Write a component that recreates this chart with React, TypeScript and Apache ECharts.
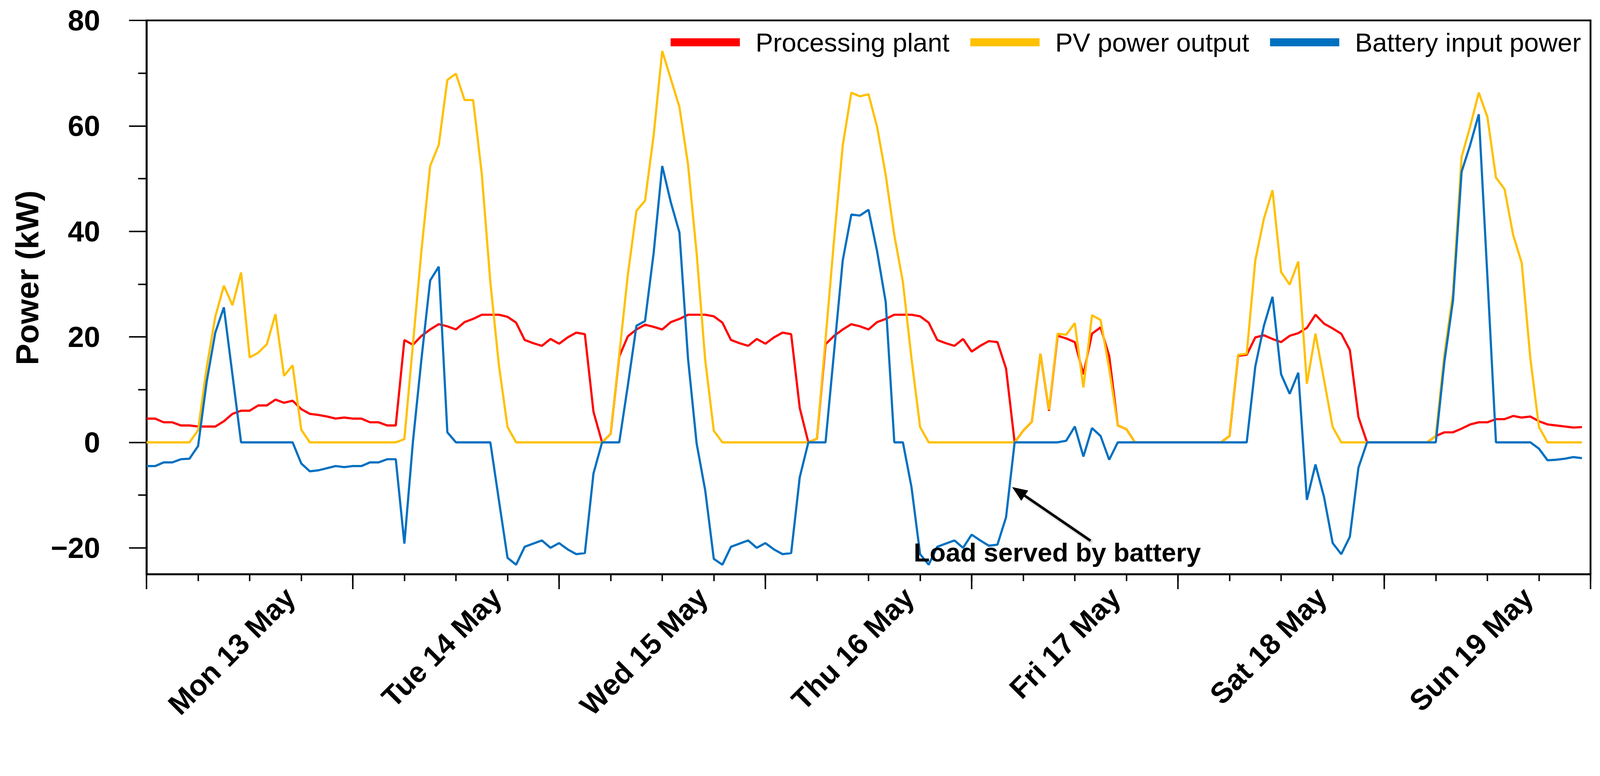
import React, { useEffect, useRef, useState } from "react";
import * as echarts from "echarts";

const dayLabels = ["Mon 13 May", "Tue 14 May", "Wed 15 May", "Thu 16 May", "Fri 17 May", "Sat 18 May", "Sun 19 May"];
const yTickValues = [-20, 0, 20, 40, 60, 80];
const yMinorTickValues = [-10, 10, 30, 50, 70];
const seriesNames = ["Processing plant", "PV power output", "Battery input power"];
const seriesColors = ["#FF0000", "#FFC000", "#0070C0"];

// hourly values (kW), 7 days x 24 h
const plant = [
  4.5, 4.5, 3.8, 3.8, 3.2, 3.2, 3.0, 3.0, 3.0, 4.0, 5.4, 6.0, 6.0, 7.0, 7.0, 8.1, 7.5, 7.9, 6.3, 5.4, 5.2, 4.9, 4.5, 4.7,
  4.5, 4.5, 3.8, 3.8, 3.2, 3.2, 19.4, 18.5, 20.2, 21.4, 22.4, 22.0, 21.4, 22.8, 23.4, 24.2, 24.2, 24.2, 23.8, 22.7, 19.4, 18.8, 18.3, 19.6,
  18.7, 19.9, 20.8, 20.5, 5.8, 0, 1.6, 16.3, 20.1, 21.4, 22.3, 21.9, 21.4, 22.8, 23.4, 24.2, 24.2, 24.2, 23.9, 22.7, 19.4, 18.8, 18.3, 19.6,
  18.7, 19.9, 20.8, 20.5, 6.5, 0, 0.7, 18.6, 20.2, 21.4, 22.4, 22.0, 21.4, 22.8, 23.4, 24.2, 24.2, 24.2, 23.9, 22.7, 19.4, 18.8, 18.3, 19.6,
  17.2, 18.3, 19.2, 19.0, 14.0, 0, 2.2, 3.9, 16.8, 6.0, 20.2, 19.7, 19.0, 12.9, 20.6, 21.8, 16.4, 3.2, 2.5, 0, 0, 0, 0, 0,
  0, 0, 0, 0, 0, 0, 1.2, 16.4, 16.6, 19.9, 20.3, 19.6, 19.0, 20.2, 20.7, 21.7, 24.2, 22.5, 21.6, 20.6, 17.5, 4.8, 0, 0,
  0, 0, 0, 0, 0, 0, 1.2, 1.9, 1.9, 2.6, 3.4, 3.8, 3.8, 4.4, 4.4, 5.0, 4.7, 4.9, 4.0, 3.4, 3.2, 3.0, 2.8, 2.9,
];

const pv = [
  0, 0, 0, 0, 0, 0, 2.3, 14.2, 23.8, 29.7, 26.0, 32.2, 16.1, 17.0, 18.6, 24.3, 12.6, 14.6, 2.4, 0, 0, 0, 0, 0,
  0, 0, 0, 0, 0, 0, 0.6, 18.7, 36.6, 52.4, 56.4, 68.7, 69.9, 64.9, 64.9, 51.0, 30.4, 14.6, 2.9, 0, 0, 0, 0, 0,
  0, 0, 0, 0, 0, 0, 1.6, 16.6, 31.8, 43.9, 45.8, 58.2, 74.2, 68.9, 63.6, 52.7, 35.9, 15.6, 2.2, 0, 0, 0, 0, 0,
  0, 0, 0, 0, 0, 0, 0.7, 19.5, 38.6, 56.3, 66.3, 65.6, 66.0, 59.8, 50.7, 39.3, 30.4, 15.9, 2.9, 0, 0, 0, 0, 0,
  0, 0, 0, 0, 0, 0, 2.2, 3.9, 16.8, 6.2, 20.6, 20.4, 22.6, 10.4, 24.1, 23.2, 14.0, 3.2, 2.5, 0, 0, 0, 0, 0,
  0, 0, 0, 0, 0, 0, 1.2, 16.6, 16.8, 34.5, 42.4, 47.8, 32.3, 29.9, 34.3, 11.1, 20.6, 11.8, 2.9, 0, 0, 0, 0, 0,
  0, 0, 0, 0, 0, 0, 1.2, 16.6, 28.3, 54.1, 59.9, 66.3, 61.7, 50.2, 48.0, 39.3, 34.0, 15.9, 2.9, 0, 0, 0, 0, 0,
];

const battery = [
  -4.5, -4.5, -3.8, -3.8, -3.2, -3.1, -0.7, 11.5, 20.8, 25.6, 12.8, 0, 0, 0, 0, 0, 0, 0, -4.0, -5.5, -5.3, -4.9, -4.5, -4.7,
  -4.5, -4.5, -3.8, -3.8, -3.2, -3.2, -19.2, 0.2, 16.0, 30.7, 33.3, 1.9, 0, 0, 0, 0, 0, -11.0, -21.9, -23.2, -19.8, -19.2, -18.6, -20.0,
  -19.1, -20.3, -21.2, -21.0, -5.9, 0, 0, 0, 10.8, 22.1, 23.0, 35.9, 52.4, 45.5, 39.8, 15.9, -0.2, -9.1, -22.1, -23.2, -19.8, -19.2, -18.6, -20.0,
  -19.1, -20.3, -21.2, -21.0, -6.6, 0, 0, 0, 17.3, 34.5, 43.2, 43.0, 44.1, 36.2, 26.6, 0, 0, -8.5, -21.2, -23.2, -19.8, -19.2, -18.6, -20.0,
  -17.5, -18.6, -19.6, -19.4, -14.2, 0, 0, 0, 0, 0, 0, 0.3, 3.0, -2.7, 2.7, 1.2, -3.3, 0, 0, 0, 0, 0, 0, 0,
  0, 0, 0, 0, 0, 0, 0, 0, 0, 14.4, 22.1, 27.6, 12.9, 9.2, 13.2, -10.9, -4.2, -10.4, -19.1, -21.2, -17.9, -4.8, 0, 0,
  0, 0, 0, 0, 0, 0, 0, 15.3, 26.9, 51.3, 56.4, 62.2, 31.5, 0, 0, 0, 0, 0, -1.2, -3.4, -3.3, -3.1, -2.8, -3.0,
];

const seriesValues = [plant, pv, battery];
const annotationText = "Load served by battery";
const yAxisTitle = "Power (kW)";

const FONT = "'Liberation Sans', Arial, Helvetica, sans-serif";
const W = 4390;
const H = 1986;

export default function App() {
  const ref = useRef<HTMLDivElement>(null);
  const [scale] = useState(() => {
    const vw = typeof window !== "undefined" ? window.innerWidth : W;
    const vh = typeof window !== "undefined" ? window.innerHeight : H;
    const s = Math.min(vw / W, vh / H);
    return s > 0 ? s : 1;
  });

  useEffect(() => {
    if (!ref.current) return;
    const chart = echarts.init(ref.current, null, { renderer: "svg", width: W, height: H });

    const hoursPerDay = 24;
    const totalHours = dayLabels.length * hoursPerDay;
    const labelOffsetHours = 16.7;
    const labelHours = dayLabels.map((_, i) => labelOffsetHours + hoursPerDay * i);

    // arrow geometry (pixels)
    const tip = { x: 2777, y: 1336 };
    const tail = { x: 2992, y: 1483 };
    const dx = tip.x - tail.x;
    const dy = tip.y - tail.y;
    const len = Math.sqrt(dx * dx + dy * dy);
    const ux = dx / len;
    const uy = dy / len;
    const headLen = 42;
    const headHalf = 17;
    const bx = tip.x - ux * headLen;
    const by = tip.y - uy * headLen;
    const nx = -uy;
    const ny = ux;

    const option: any = {
      animation: false,
      backgroundColor: "#ffffff",
      grid: {
        left: 402,
        right: 26,
        top: 56,
        bottom: 411,
        show: true,
        borderColor: "#000",
        borderWidth: 5,
        backgroundColor: "transparent",
        containLabel: false,
      },
      legend: {
        data: seriesNames,
        left: 1840,
        top: 80,
        padding: 0,
        icon: "rect",
        itemWidth: 190,
        itemHeight: 22,
        itemGap: 57,
        textStyle: {
          fontFamily: FONT,
          fontSize: 72,
          lineHeight: 72,
          color: "#000",
          padding: [0, 0, 0, 38],
        },
      },
      xAxis: [
        {
          type: "value",
          min: 0,
          max: totalHours,
          interval: 6,
          position: "bottom",
          axisLine: { show: true, onZero: false, lineStyle: { color: "#000", width: 5 } },
          axisTick: { show: true, length: 19, lineStyle: { color: "#000", width: 4 } },
          axisLabel: {
            show: true,
            customValues: labelHours,
            rotate: 45,
            margin: 50,
            fontFamily: FONT,
            fontSize: 80,
            fontWeight: "bold",
            color: "#000",
            formatter: (v: number) => dayLabels[Math.round((v - labelOffsetHours) / hoursPerDay)] ?? "",
          },
          splitLine: { show: false },
        },
        {
          type: "value",
          min: 0,
          max: totalHours,
          interval: hoursPerDay,
          position: "bottom",
          axisLine: { show: false, onZero: false },
          axisTick: { show: true, length: 41, lineStyle: { color: "#000", width: 4 } },
          axisLabel: { show: false },
          splitLine: { show: false },
        },
      ],
      yAxis: [
        {
          type: "value",
          min: -25,
          max: 80,
          position: "left",
          axisLine: { show: true, onZero: false, lineStyle: { color: "#000", width: 5 } },
          axisTick: { show: true, customValues: yTickValues, length: 48, lineStyle: { color: "#000", width: 4 } },
          axisLabel: {
            show: true,
            customValues: yTickValues,
            margin: 127,
            fontFamily: FONT,
            fontSize: 80,
            fontWeight: "bold",
            color: "#000",
            formatter: (v: number) => (v < 0 ? "\u2212" + Math.abs(v) : String(v)),
          },
          splitLine: { show: false },
        },
        {
          type: "value",
          min: -25,
          max: 80,
          position: "left",
          axisLine: { show: false, onZero: false },
          axisTick: { show: true, customValues: yMinorTickValues, length: 23, lineStyle: { color: "#000", width: 4 } },
          axisLabel: { show: false },
          splitLine: { show: false },
        },
      ],
      series: seriesNames.map((name, si) => ({
        name,
        type: "line",
        xAxisIndex: 0,
        yAxisIndex: 0,
        data: seriesValues[si].map((v, i) => [i, v]),
        showSymbol: false,
        symbol: "none",
        color: seriesColors[si],
        lineStyle: { color: seriesColors[si], width: 6 },
        z: 2 + si,
      })),
      graphic: [
        {
          type: "text",
          x: 74,
          y: 762,
          rotation: Math.PI / 2,
          style: {
            text: yAxisTitle,
            fontFamily: FONT,
            fontSize: 88,
            fontWeight: "bold",
            fill: "#000",
            align: "center",
            verticalAlign: "middle",
          },
        },
        {
          type: "text",
          x: 2901,
          y: 1515,
          z: 100,
          style: {
            text: annotationText,
            fontFamily: FONT,
            fontSize: 72,
            fontWeight: "bold",
            fill: "#000",
            align: "center",
            verticalAlign: "middle",
          },
        },
        {
          type: "line",
          z: 100,
          shape: { x1: tail.x, y1: tail.y, x2: bx, y2: by },
          style: {
            stroke: "#000",
            lineWidth: 7,
            shadowColor: "rgba(0,0,0,0.35)",
            shadowBlur: 6,
            shadowOffsetX: 3,
            shadowOffsetY: 3,
          },
        },
        {
          type: "polygon",
          z: 100,
          shape: {
            points: [
              [tip.x, tip.y],
              [bx + nx * headHalf, by + ny * headHalf],
              [bx - nx * headHalf, by - ny * headHalf],
            ],
          },
          style: { fill: "#000" },
        },
      ],
    };

    chart.setOption(option);
    return () => chart.dispose();
  }, []);

  return (
    <div
      style={{
        position: "fixed",
        left: 0,
        top: 0,
        width: W * scale,
        height: H * scale,
        overflow: "hidden",
        background: "#ffffff",
      }}
    >
      <div
        ref={ref}
        style={{
          width: W,
          height: H,
          transform: `scale(${scale})`,
          transformOrigin: "0 0",
          background: "#ffffff",
        }}
      />
    </div>
  );
}
